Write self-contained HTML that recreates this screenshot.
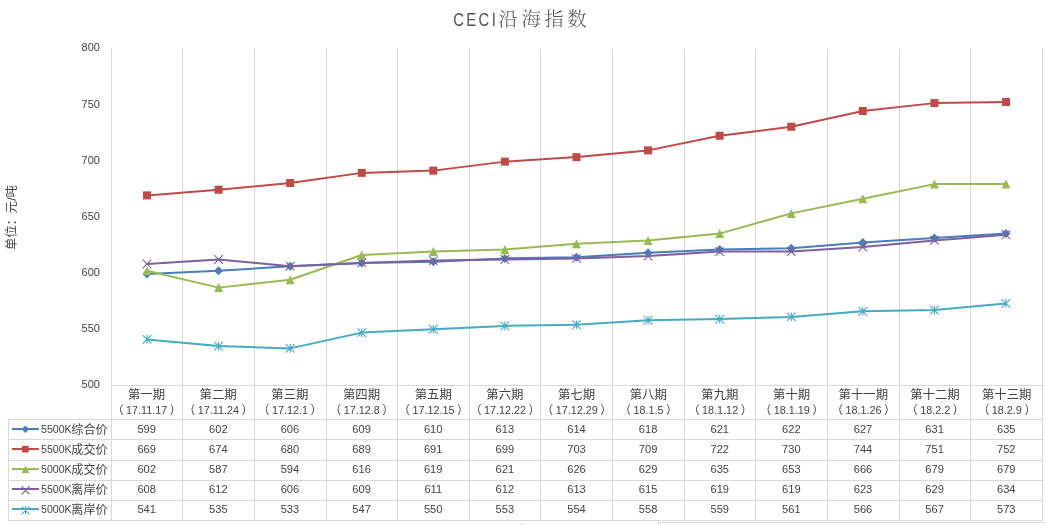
<!DOCTYPE html>
<html lang="zh-CN">
<head>
<meta charset="utf-8">
<title>CECI沿海指数</title>
<style>
html,body{margin:0;padding:0;background:#fff;}
body{width:1046px;height:525px;overflow:hidden;position:relative;}
svg{position:absolute;left:0;top:0;display:block;will-change:transform;}
text{font-family:"Liberation Sans","Noto Sans CJK SC",sans-serif;fill:#444444;}
.tl{font-family:"Liberation Sans",sans-serif;font-size:17.5px;letter-spacing:2.8px;fill:#525252;}
.tc{font-family:"Liberation Serif","Noto Serif CJK SC",serif;font-weight:300;font-size:19.5px;letter-spacing:3.4px;fill:#595959;}
.ax{font-size:11px;}
.yt{font-size:12.3px;}
.cat{font-size:12.4px;}
.num{font-size:10.8px;}
.par{font-size:11.7px;}
.leg{font-size:12.1px;}
.lnum{font-size:10.6px;}
.tnum{font-size:11.1px;}
</style>
</head>
<body>
<svg width="1046" height="525" viewBox="0 0 1046 525">
<rect x="0" y="0" width="1046" height="525" fill="#ffffff"/>

<text class="tl" transform="translate(453.2,25.8) scale(0.85,1)">CECI</text>
<text class="tc" x="498.5" y="26.3">沿海指数</text>
<text class="yt" transform="translate(16,217.6) rotate(-90)" text-anchor="middle">单位：元/吨</text>
<path d="M111.5 48.40V521.00M182.5 48.40V521.00M254.5 48.40V521.00M326.5 48.40V521.00M397.5 48.40V521.00M469.5 48.40V521.00M540.5 48.40V521.00M612.5 48.40V521.00M684.5 48.40V521.00M755.5 48.40V521.00M827.5 48.40V521.00M899.5 48.40V521.00M970.5 48.40V521.00M1042.5 48.40V521.00M111.0 385.50H1043.0M8.0 419.50H1043.0M8.0 439.50H1043.0M8.0 460.50H1043.0M8.0 480.50H1043.0M8.0 500.50H1043.0M8.0 520.50H1043.0M8.5 419.50V521.00" stroke="#D9D9D9" stroke-width="1" fill="none"/>
<path d="M658.5 525V522.5H1046" stroke="#DCDCDC" stroke-width="1" fill="none"/>
<rect x="519.5" y="524" width="4" height="1" fill="#D8D8D8"/>
<text class="ax" x="99.9" y="388.10" text-anchor="end">500</text>
<text class="ax" x="99.9" y="332.10" text-anchor="end">550</text>
<text class="ax" x="99.9" y="276.10" text-anchor="end">600</text>
<text class="ax" x="99.9" y="220.10" text-anchor="end">650</text>
<text class="ax" x="99.9" y="164.10" text-anchor="end">700</text>
<text class="ax" x="99.9" y="108.10" text-anchor="end">750</text>
<text class="ax" x="99.9" y="51.30" text-anchor="end">800</text>
<text class="cat" x="146.50" y="399.0" text-anchor="middle">第一期</text>
<text class="cat" x="146.70" y="414.0" text-anchor="middle"><tspan class="par">（</tspan><tspan class="num" dx="2.5">17.11.17</tspan><tspan class="par" dx="2.5">）</tspan></text>
<text class="cat" x="218.18" y="399.0" text-anchor="middle">第二期</text>
<text class="cat" x="218.38" y="414.0" text-anchor="middle"><tspan class="par">（</tspan><tspan class="num" dx="2.5">17.11.24</tspan><tspan class="par" dx="2.5">）</tspan></text>
<text class="cat" x="289.86" y="399.0" text-anchor="middle">第三期</text>
<text class="cat" x="290.06" y="414.0" text-anchor="middle"><tspan class="par">（</tspan><tspan class="num" dx="2.5">17.12.1</tspan><tspan class="par" dx="2.5">）</tspan></text>
<text class="cat" x="361.54" y="399.0" text-anchor="middle">第四期</text>
<text class="cat" x="361.74" y="414.0" text-anchor="middle"><tspan class="par">（</tspan><tspan class="num" dx="2.5">17.12.8</tspan><tspan class="par" dx="2.5">）</tspan></text>
<text class="cat" x="433.22" y="399.0" text-anchor="middle">第五期</text>
<text class="cat" x="433.42" y="414.0" text-anchor="middle"><tspan class="par">（</tspan><tspan class="num" dx="2.5">17.12.15</tspan><tspan class="par" dx="2.5">）</tspan></text>
<text class="cat" x="504.90" y="399.0" text-anchor="middle">第六期</text>
<text class="cat" x="505.10" y="414.0" text-anchor="middle"><tspan class="par">（</tspan><tspan class="num" dx="2.5">17.12.22</tspan><tspan class="par" dx="2.5">）</tspan></text>
<text class="cat" x="576.58" y="399.0" text-anchor="middle">第七期</text>
<text class="cat" x="576.78" y="414.0" text-anchor="middle"><tspan class="par">（</tspan><tspan class="num" dx="2.5">17.12.29</tspan><tspan class="par" dx="2.5">）</tspan></text>
<text class="cat" x="648.26" y="399.0" text-anchor="middle">第八期</text>
<text class="cat" x="648.46" y="414.0" text-anchor="middle"><tspan class="par">（</tspan><tspan class="num" dx="2.5">18.1.5</tspan><tspan class="par" dx="2.5">）</tspan></text>
<text class="cat" x="719.94" y="399.0" text-anchor="middle">第九期</text>
<text class="cat" x="720.14" y="414.0" text-anchor="middle"><tspan class="par">（</tspan><tspan class="num" dx="2.5">18.1.12</tspan><tspan class="par" dx="2.5">）</tspan></text>
<text class="cat" x="791.62" y="399.0" text-anchor="middle">第十期</text>
<text class="cat" x="791.82" y="414.0" text-anchor="middle"><tspan class="par">（</tspan><tspan class="num" dx="2.5">18.1.19</tspan><tspan class="par" dx="2.5">）</tspan></text>
<text class="cat" x="863.30" y="399.0" text-anchor="middle">第十一期</text>
<text class="cat" x="863.50" y="414.0" text-anchor="middle"><tspan class="par">（</tspan><tspan class="num" dx="2.5">18.1.26</tspan><tspan class="par" dx="2.5">）</tspan></text>
<text class="cat" x="934.98" y="399.0" text-anchor="middle">第十二期</text>
<text class="cat" x="935.18" y="414.0" text-anchor="middle"><tspan class="par">（</tspan><tspan class="num" dx="2.5">18.2.2</tspan><tspan class="par" dx="2.5">）</tspan></text>
<text class="cat" x="1006.66" y="399.0" text-anchor="middle">第十三期</text>
<text class="cat" x="1006.86" y="414.0" text-anchor="middle"><tspan class="par">（</tspan><tspan class="num" dx="2.5">18.2.9</tspan><tspan class="par" dx="2.5">）</tspan></text>
<polyline points="147.00,274.12 218.58,270.75 290.17,266.25 361.75,262.88 433.33,261.75 504.91,258.38 576.50,257.25 648.08,252.75 719.66,249.38 791.25,248.25 862.83,242.62 934.41,238.12 1006.00,233.62" fill="none" stroke="#4A7EBB" stroke-width="2" stroke-linejoin="round" stroke-linecap="round"/>
<path d="M147.00 269.62L151.50 274.12L147.00 278.62L142.50 274.12Z" fill="#4A7EBB"/>
<path d="M218.58 266.25L223.08 270.75L218.58 275.25L214.08 270.75Z" fill="#4A7EBB"/>
<path d="M290.17 261.75L294.67 266.25L290.17 270.75L285.67 266.25Z" fill="#4A7EBB"/>
<path d="M361.75 258.38L366.25 262.88L361.75 267.38L357.25 262.88Z" fill="#4A7EBB"/>
<path d="M433.33 257.25L437.83 261.75L433.33 266.25L428.83 261.75Z" fill="#4A7EBB"/>
<path d="M504.91 253.88L509.41 258.38L504.91 262.88L500.41 258.38Z" fill="#4A7EBB"/>
<path d="M576.50 252.75L581.00 257.25L576.50 261.75L572.00 257.25Z" fill="#4A7EBB"/>
<path d="M648.08 248.25L652.58 252.75L648.08 257.25L643.58 252.75Z" fill="#4A7EBB"/>
<path d="M719.66 244.88L724.16 249.38L719.66 253.88L715.16 249.38Z" fill="#4A7EBB"/>
<path d="M791.25 243.75L795.75 248.25L791.25 252.75L786.75 248.25Z" fill="#4A7EBB"/>
<path d="M862.83 238.12L867.33 242.62L862.83 247.12L858.33 242.62Z" fill="#4A7EBB"/>
<path d="M934.41 233.62L938.91 238.12L934.41 242.62L929.91 238.12Z" fill="#4A7EBB"/>
<path d="M1006.00 229.12L1010.50 233.62L1006.00 238.12L1001.50 233.62Z" fill="#4A7EBB"/>
<polyline points="147.00,195.38 218.58,189.75 290.17,183.00 361.75,172.88 433.33,170.62 504.91,161.62 576.50,157.12 648.08,150.38 719.66,135.75 791.25,126.75 862.83,111.00 934.41,103.12 1006.00,102.00" fill="none" stroke="#BE4B48" stroke-width="2" stroke-linejoin="round" stroke-linecap="round"/>
<rect x="143.00" y="191.38" width="8.00" height="8.00" fill="#BE4B48"/>
<rect x="214.58" y="185.75" width="8.00" height="8.00" fill="#BE4B48"/>
<rect x="286.17" y="179.00" width="8.00" height="8.00" fill="#BE4B48"/>
<rect x="357.75" y="168.88" width="8.00" height="8.00" fill="#BE4B48"/>
<rect x="429.33" y="166.62" width="8.00" height="8.00" fill="#BE4B48"/>
<rect x="500.91" y="157.62" width="8.00" height="8.00" fill="#BE4B48"/>
<rect x="572.50" y="153.12" width="8.00" height="8.00" fill="#BE4B48"/>
<rect x="644.08" y="146.38" width="8.00" height="8.00" fill="#BE4B48"/>
<rect x="715.66" y="131.75" width="8.00" height="8.00" fill="#BE4B48"/>
<rect x="787.25" y="122.75" width="8.00" height="8.00" fill="#BE4B48"/>
<rect x="858.83" y="107.00" width="8.00" height="8.00" fill="#BE4B48"/>
<rect x="930.41" y="99.12" width="8.00" height="8.00" fill="#BE4B48"/>
<rect x="1002.00" y="98.00" width="8.00" height="8.00" fill="#BE4B48"/>
<polyline points="147.00,270.75 218.58,287.62 290.17,279.75 361.75,255.00 433.33,251.62 504.91,249.38 576.50,243.75 648.08,240.38 719.66,233.62 791.25,213.38 862.83,198.75 934.41,184.12 1006.00,184.12" fill="none" stroke="#98B954" stroke-width="2" stroke-linejoin="round" stroke-linecap="round"/>
<path d="M147.00 266.25L151.50 275.25L142.50 275.25Z" fill="#98B954"/>
<path d="M218.58 283.12L223.08 292.12L214.08 292.12Z" fill="#98B954"/>
<path d="M290.17 275.25L294.67 284.25L285.67 284.25Z" fill="#98B954"/>
<path d="M361.75 250.50L366.25 259.50L357.25 259.50Z" fill="#98B954"/>
<path d="M433.33 247.12L437.83 256.12L428.83 256.12Z" fill="#98B954"/>
<path d="M504.91 244.88L509.41 253.88L500.41 253.88Z" fill="#98B954"/>
<path d="M576.50 239.25L581.00 248.25L572.00 248.25Z" fill="#98B954"/>
<path d="M648.08 235.88L652.58 244.88L643.58 244.88Z" fill="#98B954"/>
<path d="M719.66 229.12L724.16 238.12L715.16 238.12Z" fill="#98B954"/>
<path d="M791.25 208.88L795.75 217.88L786.75 217.88Z" fill="#98B954"/>
<path d="M862.83 194.25L867.33 203.25L858.33 203.25Z" fill="#98B954"/>
<path d="M934.41 179.62L938.91 188.62L929.91 188.62Z" fill="#98B954"/>
<path d="M1006.00 179.62L1010.50 188.62L1001.50 188.62Z" fill="#98B954"/>
<polyline points="147.00,264.00 218.58,259.50 290.17,266.25 361.75,262.88 433.33,260.62 504.91,259.50 576.50,258.38 648.08,256.12 719.66,251.62 791.25,251.62 862.83,247.12 934.41,240.38 1006.00,234.75" fill="none" stroke="#7D60A0" stroke-width="2" stroke-linejoin="round" stroke-linecap="round"/>
<path d="M142.70 259.70L151.30 268.30M151.30 259.70L142.70 268.30" stroke="#7D60A0" stroke-width="1.1" fill="none"/>
<path d="M214.28 255.20L222.88 263.80M222.88 255.20L214.28 263.80" stroke="#7D60A0" stroke-width="1.1" fill="none"/>
<path d="M285.87 261.95L294.47 270.55M294.47 261.95L285.87 270.55" stroke="#7D60A0" stroke-width="1.1" fill="none"/>
<path d="M357.45 258.57L366.05 267.18M366.05 258.57L357.45 267.18" stroke="#7D60A0" stroke-width="1.1" fill="none"/>
<path d="M429.03 256.32L437.63 264.93M437.63 256.32L429.03 264.93" stroke="#7D60A0" stroke-width="1.1" fill="none"/>
<path d="M500.61 255.20L509.21 263.80M509.21 255.20L500.61 263.80" stroke="#7D60A0" stroke-width="1.1" fill="none"/>
<path d="M572.20 254.07L580.80 262.68M580.80 254.07L572.20 262.68" stroke="#7D60A0" stroke-width="1.1" fill="none"/>
<path d="M643.78 251.82L652.38 260.43M652.38 251.82L643.78 260.43" stroke="#7D60A0" stroke-width="1.1" fill="none"/>
<path d="M715.36 247.32L723.96 255.93M723.96 247.32L715.36 255.93" stroke="#7D60A0" stroke-width="1.1" fill="none"/>
<path d="M786.95 247.32L795.55 255.93M795.55 247.32L786.95 255.93" stroke="#7D60A0" stroke-width="1.1" fill="none"/>
<path d="M858.53 242.82L867.13 251.43M867.13 242.82L858.53 251.43" stroke="#7D60A0" stroke-width="1.1" fill="none"/>
<path d="M930.11 236.07L938.71 244.68M938.71 236.07L930.11 244.68" stroke="#7D60A0" stroke-width="1.1" fill="none"/>
<path d="M1001.70 230.45L1010.30 239.05M1010.30 230.45L1001.70 239.05" stroke="#7D60A0" stroke-width="1.1" fill="none"/>
<polyline points="147.00,339.38 218.58,346.12 290.17,348.38 361.75,332.62 433.33,329.25 504.91,325.88 576.50,324.75 648.08,320.25 719.66,319.12 791.25,316.88 862.83,311.25 934.41,310.12 1006.00,303.38" fill="none" stroke="#46AAC5" stroke-width="2" stroke-linejoin="round" stroke-linecap="round"/>
<path d="M142.70 335.07L151.30 343.68M151.30 335.07L142.70 343.68M147.00 335.07L147.00 343.68" stroke="#46AAC5" stroke-width="1.1" fill="none"/>
<path d="M214.28 341.82L222.88 350.43M222.88 341.82L214.28 350.43M218.58 341.82L218.58 350.43" stroke="#46AAC5" stroke-width="1.1" fill="none"/>
<path d="M285.87 344.07L294.47 352.68M294.47 344.07L285.87 352.68M290.17 344.07L290.17 352.68" stroke="#46AAC5" stroke-width="1.1" fill="none"/>
<path d="M357.45 328.32L366.05 336.93M366.05 328.32L357.45 336.93M361.75 328.32L361.75 336.93" stroke="#46AAC5" stroke-width="1.1" fill="none"/>
<path d="M429.03 324.95L437.63 333.55M437.63 324.95L429.03 333.55M433.33 324.95L433.33 333.55" stroke="#46AAC5" stroke-width="1.1" fill="none"/>
<path d="M500.61 321.57L509.21 330.18M509.21 321.57L500.61 330.18M504.91 321.57L504.91 330.18" stroke="#46AAC5" stroke-width="1.1" fill="none"/>
<path d="M572.20 320.45L580.80 329.05M580.80 320.45L572.20 329.05M576.50 320.45L576.50 329.05" stroke="#46AAC5" stroke-width="1.1" fill="none"/>
<path d="M643.78 315.95L652.38 324.55M652.38 315.95L643.78 324.55M648.08 315.95L648.08 324.55" stroke="#46AAC5" stroke-width="1.1" fill="none"/>
<path d="M715.36 314.82L723.96 323.43M723.96 314.82L715.36 323.43M719.66 314.82L719.66 323.43" stroke="#46AAC5" stroke-width="1.1" fill="none"/>
<path d="M786.95 312.57L795.55 321.18M795.55 312.57L786.95 321.18M791.25 312.57L791.25 321.18" stroke="#46AAC5" stroke-width="1.1" fill="none"/>
<path d="M858.53 306.95L867.13 315.55M867.13 306.95L858.53 315.55M862.83 306.95L862.83 315.55" stroke="#46AAC5" stroke-width="1.1" fill="none"/>
<path d="M930.11 305.82L938.71 314.43M938.71 305.82L930.11 314.43M934.41 305.82L934.41 314.43" stroke="#46AAC5" stroke-width="1.1" fill="none"/>
<path d="M1001.70 299.07L1010.30 307.68M1010.30 299.07L1001.70 307.68M1006.00 299.07L1006.00 307.68" stroke="#46AAC5" stroke-width="1.1" fill="none"/>
<path d="M12 429.00H38.9" stroke="#4A7EBB" stroke-width="2" fill="none"/>
<path d="M25.40 425.46L29.13 429.20L25.40 432.94L21.66 429.20Z" fill="#4A7EBB"/>
<text class="lnum" x="41" y="433.00">5500K</text>
<text class="leg" x="71.3" y="434.00">综合价</text>
<text class="tnum" x="146.70" y="432.90" text-anchor="middle">599</text>
<text class="tnum" x="218.33" y="432.90" text-anchor="middle">602</text>
<text class="tnum" x="289.96" y="432.90" text-anchor="middle">606</text>
<text class="tnum" x="361.59" y="432.90" text-anchor="middle">609</text>
<text class="tnum" x="433.22" y="432.90" text-anchor="middle">610</text>
<text class="tnum" x="504.85" y="432.90" text-anchor="middle">613</text>
<text class="tnum" x="576.48" y="432.90" text-anchor="middle">614</text>
<text class="tnum" x="648.11" y="432.90" text-anchor="middle">618</text>
<text class="tnum" x="719.74" y="432.90" text-anchor="middle">621</text>
<text class="tnum" x="791.37" y="432.90" text-anchor="middle">622</text>
<text class="tnum" x="863.00" y="432.90" text-anchor="middle">627</text>
<text class="tnum" x="934.63" y="432.90" text-anchor="middle">631</text>
<text class="tnum" x="1006.26" y="432.90" text-anchor="middle">635</text>
<path d="M12 449.00H38.9" stroke="#BE4B48" stroke-width="2" fill="none"/>
<rect x="22.08" y="445.88" width="6.64" height="6.64" fill="#BE4B48"/>
<text class="lnum" x="41" y="453.00">5500K</text>
<text class="leg" x="71.3" y="454.00">成交价</text>
<text class="tnum" x="146.70" y="452.90" text-anchor="middle">669</text>
<text class="tnum" x="218.33" y="452.90" text-anchor="middle">674</text>
<text class="tnum" x="289.96" y="452.90" text-anchor="middle">680</text>
<text class="tnum" x="361.59" y="452.90" text-anchor="middle">689</text>
<text class="tnum" x="433.22" y="452.90" text-anchor="middle">691</text>
<text class="tnum" x="504.85" y="452.90" text-anchor="middle">699</text>
<text class="tnum" x="576.48" y="452.90" text-anchor="middle">703</text>
<text class="tnum" x="648.11" y="452.90" text-anchor="middle">709</text>
<text class="tnum" x="719.74" y="452.90" text-anchor="middle">722</text>
<text class="tnum" x="791.37" y="452.90" text-anchor="middle">730</text>
<text class="tnum" x="863.00" y="452.90" text-anchor="middle">744</text>
<text class="tnum" x="934.63" y="452.90" text-anchor="middle">751</text>
<text class="tnum" x="1006.26" y="452.90" text-anchor="middle">752</text>
<path d="M12 469.00H38.9" stroke="#98B954" stroke-width="2" fill="none"/>
<path d="M25.40 465.46L29.13 472.94L21.66 472.94Z" fill="#98B954"/>
<text class="lnum" x="41" y="473.00">5000K</text>
<text class="leg" x="71.3" y="474.00">成交价</text>
<text class="tnum" x="146.70" y="472.90" text-anchor="middle">602</text>
<text class="tnum" x="218.33" y="472.90" text-anchor="middle">587</text>
<text class="tnum" x="289.96" y="472.90" text-anchor="middle">594</text>
<text class="tnum" x="361.59" y="472.90" text-anchor="middle">616</text>
<text class="tnum" x="433.22" y="472.90" text-anchor="middle">619</text>
<text class="tnum" x="504.85" y="472.90" text-anchor="middle">621</text>
<text class="tnum" x="576.48" y="472.90" text-anchor="middle">626</text>
<text class="tnum" x="648.11" y="472.90" text-anchor="middle">629</text>
<text class="tnum" x="719.74" y="472.90" text-anchor="middle">635</text>
<text class="tnum" x="791.37" y="472.90" text-anchor="middle">653</text>
<text class="tnum" x="863.00" y="472.90" text-anchor="middle">666</text>
<text class="tnum" x="934.63" y="472.90" text-anchor="middle">679</text>
<text class="tnum" x="1006.26" y="472.90" text-anchor="middle">679</text>
<path d="M12 489.00H38.9" stroke="#7D60A0" stroke-width="2" fill="none"/>
<path d="M21.60 486.30L29.60 494.30M29.60 486.30L21.60 494.30" stroke="#7D60A0" stroke-width="1.1" fill="none"/>
<text class="lnum" x="41" y="493.00">5500K</text>
<text class="leg" x="71.3" y="494.00">离岸价</text>
<text class="tnum" x="146.70" y="492.90" text-anchor="middle">608</text>
<text class="tnum" x="218.33" y="492.90" text-anchor="middle">612</text>
<text class="tnum" x="289.96" y="492.90" text-anchor="middle">606</text>
<text class="tnum" x="361.59" y="492.90" text-anchor="middle">609</text>
<text class="tnum" x="433.22" y="492.90" text-anchor="middle">611</text>
<text class="tnum" x="504.85" y="492.90" text-anchor="middle">612</text>
<text class="tnum" x="576.48" y="492.90" text-anchor="middle">613</text>
<text class="tnum" x="648.11" y="492.90" text-anchor="middle">615</text>
<text class="tnum" x="719.74" y="492.90" text-anchor="middle">619</text>
<text class="tnum" x="791.37" y="492.90" text-anchor="middle">619</text>
<text class="tnum" x="863.00" y="492.90" text-anchor="middle">623</text>
<text class="tnum" x="934.63" y="492.90" text-anchor="middle">629</text>
<text class="tnum" x="1006.26" y="492.90" text-anchor="middle">634</text>
<path d="M12 509.00H38.9" stroke="#46AAC5" stroke-width="2" fill="none"/>
<path d="M21.60 506.30L29.60 514.30M29.60 506.30L21.60 514.30M25.60 506.30L25.60 514.30" stroke="#46AAC5" stroke-width="1.1" fill="none"/>
<text class="lnum" x="41" y="513.00">5000K</text>
<text class="leg" x="71.3" y="514.00">离岸价</text>
<text class="tnum" x="146.70" y="512.90" text-anchor="middle">541</text>
<text class="tnum" x="218.33" y="512.90" text-anchor="middle">535</text>
<text class="tnum" x="289.96" y="512.90" text-anchor="middle">533</text>
<text class="tnum" x="361.59" y="512.90" text-anchor="middle">547</text>
<text class="tnum" x="433.22" y="512.90" text-anchor="middle">550</text>
<text class="tnum" x="504.85" y="512.90" text-anchor="middle">553</text>
<text class="tnum" x="576.48" y="512.90" text-anchor="middle">554</text>
<text class="tnum" x="648.11" y="512.90" text-anchor="middle">558</text>
<text class="tnum" x="719.74" y="512.90" text-anchor="middle">559</text>
<text class="tnum" x="791.37" y="512.90" text-anchor="middle">561</text>
<text class="tnum" x="863.00" y="512.90" text-anchor="middle">566</text>
<text class="tnum" x="934.63" y="512.90" text-anchor="middle">567</text>
<text class="tnum" x="1006.26" y="512.90" text-anchor="middle">573</text>
</svg>
</body>
</html>
